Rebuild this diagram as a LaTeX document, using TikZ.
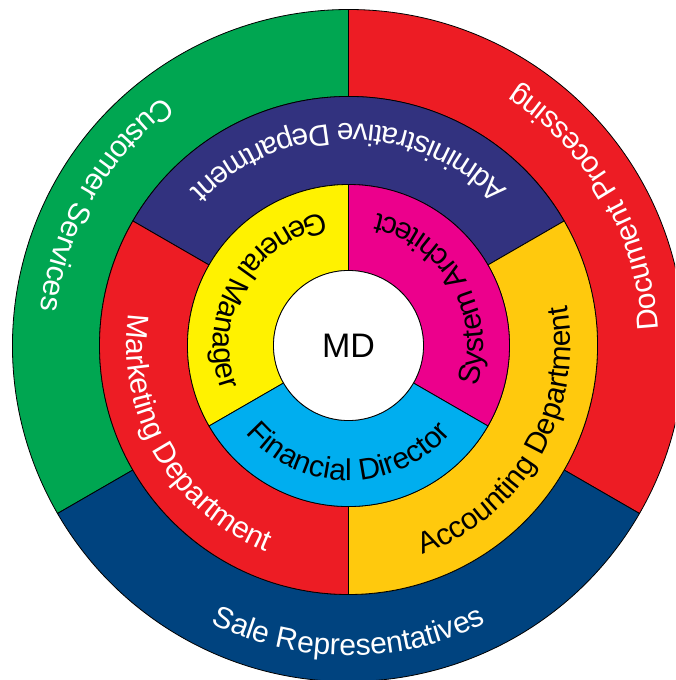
\documentclass[tikz,border=0pt]{standalone}
\usepackage{fontspec}
\setmainfont{Liberation Sans}
\usetikzlibrary{decorations.text}

\definecolor{csgreen}{HTML}{00A651}
\definecolor{dpred}{HTML}{ED1C24}
\definecolor{srblue}{HTML}{00437F}
\definecolor{adpurple}{HTML}{32327F}
\definecolor{acgold}{HTML}{FFC90D}
\definecolor{gmyellow}{HTML}{FFF200}
\definecolor{samagenta}{HTML}{EC008C}
\definecolor{fdcyan}{HTML}{00AEEF}

\newcommand{\lblfont}{\fontsize{30}{36}\selectfont}

\begin{document}
\begin{tikzpicture}[
    seg/.style={draw=black, line width=0.8pt},
    whitelbl/.style={decorate, decoration={text along path, text align=center, text color=white, text={|\lblfont|#1}}},
    blacklbl/.style={decorate, decoration={text along path, text align=center, text color=black, text={|\lblfont|#1}}},
  ]
                \useasboundingbox (-348.5pt,-334.5pt) rectangle (326.5pt,345.5pt);
                \clip (-348.5pt,-334.5pt) rectangle (326.5pt,345.5pt);

                % outer ring
                \draw[seg, fill=csgreen] (90:249pt) arc[start angle=90, end angle=210, radius=249pt] -- (210:336pt) arc[start angle=210, end angle=90, radius=336pt] -- cycle;
                \draw[seg, fill=dpred] (-30:249pt) arc[start angle=-30, end angle=90, radius=249pt] -- (90:336pt) arc[start angle=90, end angle=-30, radius=336pt] -- cycle;
                \draw[seg, fill=srblue] (210:249pt) arc[start angle=210, end angle=330, radius=249pt] -- (330:336pt) arc[start angle=330, end angle=210, radius=336pt] -- cycle;

                % middle ring
                \draw[seg, fill=adpurple] (30:161pt) arc[start angle=30, end angle=150, radius=161pt] -- (150:249pt) arc[start angle=150, end angle=30, radius=249pt] -- cycle;
                \draw[seg, fill=dpred] (150:161pt) arc[start angle=150, end angle=270, radius=161pt] -- (270:249pt) arc[start angle=270, end angle=150, radius=249pt] -- cycle;
                \draw[seg, fill=acgold] (270:161pt) arc[start angle=270, end angle=390, radius=161pt] -- (390:249pt) arc[start angle=390, end angle=270, radius=249pt] -- cycle;

                % inner ring
                \draw[seg, fill=gmyellow] (90:75pt) arc[start angle=90, end angle=210, radius=75pt] -- (210:161pt) arc[start angle=210, end angle=90, radius=161pt] -- cycle;
                \draw[seg, fill=samagenta] (-30:75pt) arc[start angle=-30, end angle=90, radius=75pt] -- (90:161pt) arc[start angle=90, end angle=-30, radius=161pt] -- cycle;
                \draw[seg, fill=fdcyan] (210:75pt) arc[start angle=210, end angle=330, radius=75pt] -- (330:161pt) arc[start angle=330, end angle=210, radius=161pt] -- cycle;

                \node[seg, circle, fill=white, minimum size=150pt, inner sep=0pt, font=\fontsize{34}{40}\selectfont] (md) at (0,0) {MD};

                \path[whitelbl=Customer Services] (90:310pt) arc[start angle=90, end angle=210, radius=310pt];
                \path[whitelbl=Document Processing] (-30:310pt) arc[start angle=-30, end angle=90, radius=310pt];
                \path[whitelbl=Sale Representatives] (210:310pt) arc[start angle=210, end angle=330, radius=310pt];

                \path[whitelbl=Administrative Department] (30:222pt) arc[start angle=30, end angle=150, radius=222pt];
                \path[whitelbl=Marketing Department] (150:222pt) arc[start angle=150, end angle=270, radius=222pt];
                \path[blacklbl=Accounting Department] (270:222pt) arc[start angle=270, end angle=390, radius=222pt];

                \path[blacklbl=General Manager] (90:135pt) arc[start angle=90, end angle=210, radius=135pt];
                \path[blacklbl=System Architect] (-30:135pt) arc[start angle=-30, end angle=90, radius=135pt];
                \path[blacklbl=Financial Director] (210:135pt) arc[start angle=210, end angle=330, radius=135pt];
            \end{tikzpicture}
\end{document}
